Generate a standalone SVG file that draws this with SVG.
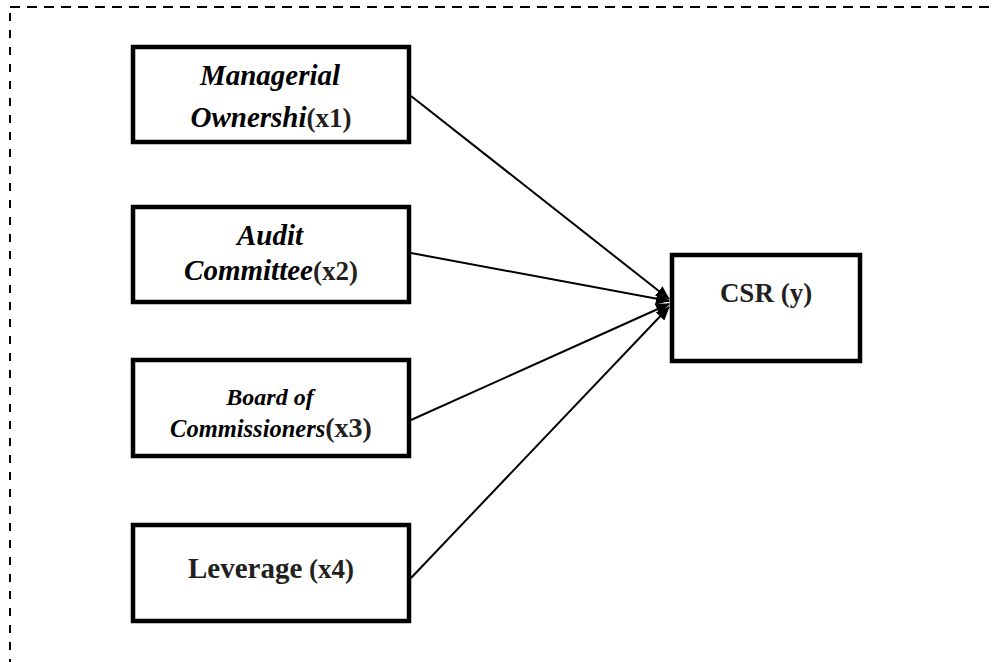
<svg xmlns="http://www.w3.org/2000/svg" width="995" height="662" viewBox="0 0 995 662">
<style>
.box{fill:#fff;stroke:#000;stroke-width:4.5}
.bi{font-family:"Liberation Serif",serif;font-weight:bold;font-style:italic;fill:#000}
.b{font-family:"Liberation Serif",serif;font-weight:bold;font-style:normal;fill:#231f20}
.c{stroke:#000;stroke-width:2;fill:none;marker-end:url(#ah)}
.frame{stroke:#000;stroke-width:2;fill:none}
</style>
<defs>
<marker id="ah" markerWidth="14" markerHeight="12" refX="13" refY="6" orient="auto" markerUnits="userSpaceOnUse">
<path d="M0,0 L14,6 L0,12 Z" fill="#000"/>
</marker>
</defs>
<g id="frame">
<line class="frame" x1="10" y1="7" x2="995" y2="7" stroke-dasharray="10,7"/>
<line class="frame" x1="10" y1="13" x2="10" y2="662" stroke-dasharray="8,9"/>
</g>
<g id="connectors">
<line class="c" x1="411" y1="96" x2="669" y2="299"/>
<line class="c" x1="411" y1="253" x2="669" y2="301"/>
<line class="c" x1="411" y1="420" x2="669" y2="304"/>
<line class="c" x1="411" y1="578" x2="669" y2="307"/>
</g>
<g id="x1">
<rect class="box" x="133" y="47" width="276" height="95"/>
<text x="270" y="85" text-anchor="middle" class="bi" font-size="29">Managerial</text>
<text x="271" y="127" text-anchor="middle"><tspan class="bi" font-size="29">Ownershi</tspan><tspan class="b" font-size="27">(x1)</tspan></text>
</g>
<g id="x2">
<rect class="box" x="133" y="207" width="276" height="95"/>
<text x="270" y="245" text-anchor="middle" class="bi" font-size="29">Audit</text>
<text x="271" y="280" text-anchor="middle"><tspan class="bi" font-size="29">Committee</tspan><tspan class="b" font-size="27">(x2)</tspan></text>
</g>
<g id="x3">
<rect class="box" x="133" y="360" width="276" height="96"/>
<text x="270" y="405" text-anchor="middle" class="bi" font-size="24">Board of</text>
<text x="271" y="437" text-anchor="middle"><tspan class="bi" font-size="24.5">Commissioners</tspan><tspan class="b" font-size="28">(x3)</tspan></text>
</g>
<g id="x4">
<rect class="box" x="133" y="525" width="276" height="96"/>
<text x="271" y="578" text-anchor="middle"><tspan class="b" font-size="29" fill="#000">Leverage</tspan><tspan class="b" font-size="27"> (x4)</tspan></text>
</g>
<g id="y">
<rect class="box" x="672" y="255" width="188" height="106"/>
<text x="766" y="302" text-anchor="middle" class="b" font-size="27">CSR (y)</text>
</g>
</svg>
